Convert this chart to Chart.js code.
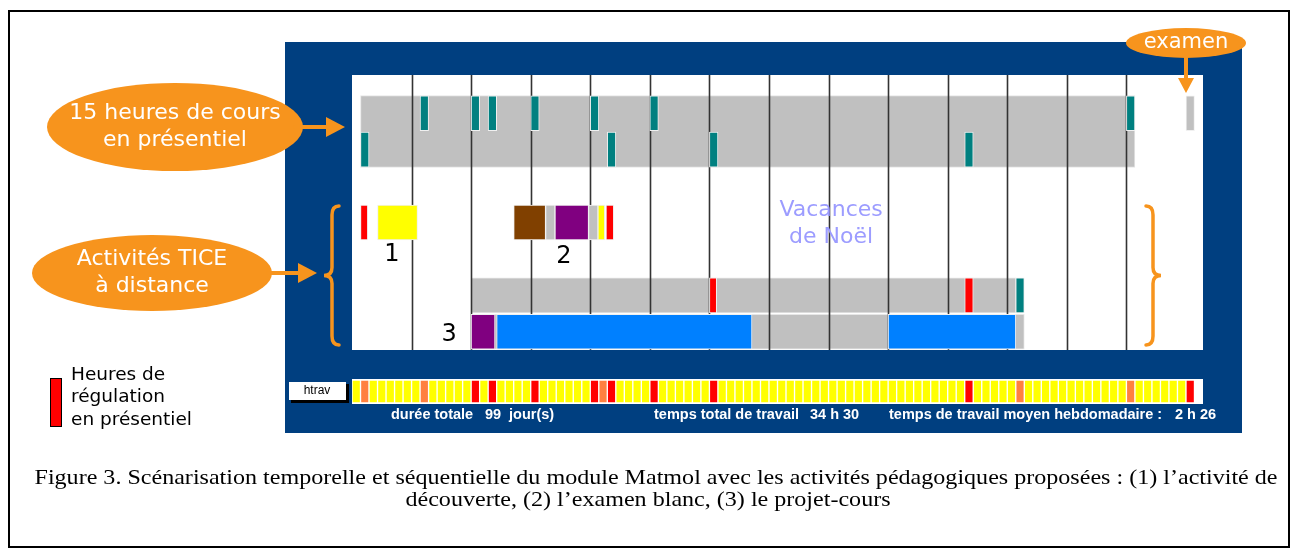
<!DOCTYPE html>
<html>
<head>
<meta charset="utf-8">
<script src="https://cdn.jsdelivr.net/npm/chart.js@4.4.1/dist/chart.umd.min.js"></script>
<style>
  body { margin: 0; background: #fff; }
  #wrap { position: relative; width: 1294px; height: 558px; }
  #main { position: absolute; left: 0; top: 0; }
  #strip { position: absolute; left: 352px; top: 379px; background: #fff; }
</style>
</head>
<body>
<div id="wrap">
  <canvas id="main" width="1294" height="558"></canvas>
  <canvas id="strip" width="851" height="25"></canvas>
</div>
<script>
/* ---------- DONNEES (jours depuis le début du module) ---------- */
const rowLabels = ["cours 1", "cours 2", "activités TICE", "projet 1", "projet 2"];
const rowLanes = [1, 2, 4, 6, 7];
const coursLane = 1.5;              // bande grise commune aux 2 lignes de cours

const coursSpan = [1, 92];
const projetGris = [[14, 78], [14, 79]];      // lignes projet 1 et 2
const seances1 = [8, 14, 16, 21, 28, 35, 91];  // cours en présentiel
const seances2 = [1, 30, 42, 72];
const seancesProjet = [78];
const regulAct = [[1, 1.85], [29.85, 30.75]];  // heures de régulation
const regulProjet = [[42, 42.85], [72, 73]];
const examen = [98, 99];
const attente = [[22.75, 23.85], [27.8, 28.9]];
const jaune = [[3, 7.7], [28.9, 29.7]];
const marron = [[19, 22.75]];
const violetAct = [[23.85, 27.8]];
const violetProjet = [[14, 16.8]];
const bleu = [[17, 47], [63, 78]];

// bande htrav : un caractère par jour (Y jaune, O orange, R rouge)
const journal = [
  "YOYYYYY", "YOYYYYY", "RYRYYYY", "RYYYYYY", "RORYYYY", "RYYYYYY", "RYYYYYY",
  "YYYYYYY", "YYYYYYY", "YYYYYYY", "YYRYYYY", "YOYYYYY", "YYYYYYY", "OYYYYYY", "R"
];
const semaineTicks = 7;
const dureeTotale = "99";
const tempsTotal = "34 h 30";
const tempsMoyen = "2 h 26";

/* ---------- HELPERS ---------- */
function spans(list, lane) {
  return list.map(s => ({ x: [s[0], s[1]], y: lane }));
}
function days(list, lane) {
  return list.map(d => ({ x: [d, d + 1], y: lane }));
}

const ORANGE = "#f7941d";

function barSet(label, data, color, extra) {
  return Object.assign({
    label: label,
    data: data,
    backgroundColor: color,
    borderColor: "#f0f0f0",
    borderWidth: 1,
    borderSkipped: false,
    barThickness: 35,
    grouped: false,
    order: 1
  }, extra || {});
}

function fleche(ctx, x1, y1, x2, y2, head, half) {
  let a = Math.atan2(y2 - y1, x2 - x1);
  let bx = x2 - Math.cos(a) * head, by = y2 - Math.sin(a) * head;
  ctx.strokeStyle = ORANGE;
  ctx.fillStyle = ORANGE;
  ctx.lineWidth = 4;
  ctx.beginPath();
  ctx.moveTo(x1, y1);
  ctx.lineTo(bx, by);
  ctx.stroke();
  ctx.beginPath();
  ctx.moveTo(x2, y2);
  ctx.lineTo(bx - Math.sin(a) * half, by + Math.cos(a) * half);
  ctx.lineTo(bx + Math.sin(a) * half, by - Math.cos(a) * half);
  ctx.closePath();
  ctx.fill();
}

function bulle(ctx, cx, cy, rx, ry, lines, font, dy) {
  ctx.fillStyle = ORANGE;
  ctx.beginPath();
  ctx.ellipse(cx, cy, rx, ry, 0, 0, Math.PI * 2);
  ctx.fill();
  ctx.fillStyle = "#fff";
  ctx.font = font;
  ctx.textAlign = "center";
  ctx.textBaseline = "middle";
  lines.forEach((t, i) => {
    ctx.fillText(t, cx, cy + (i - (lines.length - 1) / 2) * dy);
  });
}

function accolade(ctx, x, top, bottom, dir) {
  // dir = -1 : "{" , dir = 1 : "}"
  let mid = (top + bottom) / 2;
  ctx.strokeStyle = ORANGE;
  ctx.lineWidth = 3.5;
  ctx.lineCap = "round";
  ctx.beginPath();
  ctx.moveTo(x - dir * 7, top);
  ctx.quadraticCurveTo(x, top, x, top + 9);
  ctx.lineTo(x, mid - 8);
  ctx.quadraticCurveTo(x, mid, x + dir * 8, mid);
  ctx.quadraticCurveTo(x, mid, x, mid + 8);
  ctx.lineTo(x, bottom - 9);
  ctx.quadraticCurveTo(x, bottom, x - dir * 7, bottom);
  ctx.stroke();
}

// texte étiré horizontalement pour tenir sur une largeur donnée
function texteLarge(ctx, txt, cx, cy, width) {
  let w = ctx.measureText(txt).width;
  ctx.save();
  ctx.translate(cx, cy);
  ctx.scale(width / w, 1);
  ctx.fillText(txt, 0, 0);
  ctx.restore();
}

/* ---------- PLUGINS ---------- */
const fond = {
  id: "fond",
  beforeDraw(chart) {
    const { ctx, chartArea } = chart;
    ctx.save();
    ctx.fillStyle = "#fff";
    ctx.fillRect(0, 0, chart.width, chart.height);
    ctx.strokeStyle = "#000";
    ctx.lineWidth = 2;
    ctx.strokeRect(9, 11, 1280, 536);
    ctx.fillStyle = "#003f80";
    ctx.fillRect(285, 42, 957, 391);
    ctx.fillStyle = "#fff";
    ctx.fillRect(chartArea.left, chartArea.top, chartArea.right - chartArea.left, chartArea.bottom - chartArea.top);
    ctx.restore();
  }
};

// lignes des semaines : par-dessus les bandes grises, sous les activités
const semaines = {
  id: "semaines",
  afterDatasetDraw(chart, args) {
    if (chart.data.datasets[args.index].label !== "gris") return;
    const { ctx, chartArea, scales: { x } } = chart;
    ctx.save();
    ctx.strokeStyle = "#333";
    ctx.lineWidth = 1.6;
    x.ticks.forEach(t => {
      if (t.value <= 0 || t.value >= x.max) return;
      let px = Math.round(x.getPixelForValue(t.value)) + 0.5;
      ctx.beginPath();
      ctx.moveTo(px, chartArea.top);
      ctx.lineTo(px, chartArea.bottom);
      ctx.stroke();
    });
    ctx.restore();
  }
};

const annotations = {
  id: "annotations",
  afterDraw(chart) {
    const { ctx, scales: { x, y } } = chart;
    ctx.save();

    // textes dans la zone blanche
    ctx.textAlign = "center";
    ctx.textBaseline = "middle";
    ctx.fillStyle = "#9c9cff";
    ctx.font = "22px 'DejaVu Sans'";
    ctx.fillText("Vacances", x.getPixelForValue(56.3), 210);
    ctx.fillText("de Noël", x.getPixelForValue(56.3), 237);
    ctx.fillStyle = "#000";
    ctx.font = "24px 'DejaVu Sans'";
    ctx.fillText("1", x.getPixelForValue(4.7), 255);
    ctx.fillText("2", x.getPixelForValue(24.9), 257);
    ctx.fillText("3", x.getPixelForValue(11.4), 335);

    // accolades
    accolade(ctx, 332, 206, 345, -1);
    accolade(ctx, 1153, 206, 345, 1);

    // bulles orange
    bulle(ctx, 175, 127, 128, 44, ["15 heures de cours", "en présentiel"], "22px 'DejaVu Sans'", 27);
    fleche(ctx, 295, 127, 345, 127, 19, 10);
    bulle(ctx, 152, 273, 120, 38, ["Activités TICE", "à distance"], "22px 'DejaVu Sans'", 27);
    fleche(ctx, 268, 273, 317, 273, 19, 10);
    bulle(ctx, 1186, 43, 60, 15, ["examen"], "21px 'DejaVu Sans'", 0);
    fleche(ctx, 1186, 57, 1186, 93, 15, 8);

    // légende régulation
    ctx.fillStyle = "#ff0000";
    ctx.fillRect(50, 378, 12, 49);
    ctx.strokeStyle = "#000";
    ctx.lineWidth = 1;
    ctx.strokeRect(50.5, 378.5, 11, 48);
    ctx.fillStyle = "#000";
    ctx.font = "18.5px 'DejaVu Sans'";
    ctx.textAlign = "left";
    ctx.fillText("Heures de", 71, 375);
    ctx.fillText("régulation", 71, 397);
    ctx.fillText("en présentiel", 71, 420);

    // bouton htrav
    ctx.fillStyle = "#000";
    ctx.fillRect(291, 384, 58, 19);
    ctx.fillStyle = "#fff";
    ctx.fillRect(289, 382, 57, 18);
    ctx.fillStyle = "#000";
    ctx.font = "12px 'Liberation Sans'";
    ctx.textAlign = "center";
    ctx.fillText("htrav", 317, 391);

    // résumé sous la bande
    ctx.fillStyle = "#fff";
    ctx.font = "bold 14.5px 'Liberation Sans'";
    ctx.textAlign = "left";
    ctx.fillText("durée totale", 391, 415);
    ctx.fillText(dureeTotale, 485, 415);
    ctx.fillText("jour(s)", 509, 415);
    ctx.fillText("temps total de travail", 654, 415);
    ctx.fillText(tempsTotal, 810, 415);
    ctx.fillText("temps de travail moyen hebdomadaire :", 889, 415);
    ctx.fillText(tempsMoyen, 1175, 415);

    // légende de la figure
    ctx.fillStyle = "#000";
    ctx.font = "21px 'Liberation Serif'";
    ctx.textAlign = "center";
    texteLarge(ctx, "Figure 3. Scénarisation temporelle et séquentielle du module Matmol avec les activités pédagogiques proposées : (1) l\u2019activité de", 656, 478, 1243);
    let w2 = ctx.measureText("découverte, (2) l\u2019examen blanc, (3) le projet-cours").width;
    let w1 = ctx.measureText("Figure 3. Scénarisation temporelle et séquentielle du module Matmol avec les activités pédagogiques proposées : (1) l\u2019activité de").width;
    texteLarge(ctx, "découverte, (2) l\u2019examen blanc, (3) le projet-cours", 648, 500, w2 * 1243 / w1);

    ctx.restore();
  }
};

/* ---------- GRAPHIQUE PRINCIPAL ---------- */
new Chart(document.getElementById("main"), {
  type: "bar",
  data: {
    datasets: [
      barSet("gris cours", [{ x: coursSpan, y: coursLane }], "#c0c0c0", { barThickness: 72, order: 3, borderColor: "#e6e6e6" }),
      barSet("gris", spans([projetGris[0]], rowLanes[3]).concat(spans([projetGris[1]], rowLanes[4])), "#c0c0c0", { order: 2, borderColor: "#e6e6e6" }),
      barSet("séances", days(seances1, rowLanes[0]).concat(days(seances2, rowLanes[1]), days(seancesProjet, rowLanes[3])), "#008080"),
      barSet("examen", [{ x: examen, y: rowLanes[0] }], "#c0c0c0"),
      barSet("attente", spans(attente, rowLanes[2]), "#c0c0c0"),
      barSet("régulation", spans(regulAct, rowLanes[2]).concat(spans(regulProjet, rowLanes[3])), "#ff0000"),
      barSet("découverte", spans(jaune, rowLanes[2]), "#ffff00"),
      barSet("examen blanc", spans(marron, rowLanes[2]), "#804000"),
      barSet("violet", spans(violetAct, rowLanes[2]).concat(spans(violetProjet, rowLanes[4])), "#800080"),
      barSet("projet-cours", spans(bleu, rowLanes[4]), "#0080ff")
    ]
  },
  options: {
    indexAxis: "y",
    responsive: false,
    animation: false,
    layout: { padding: { left: 352, right: 91, top: 75, bottom: 208 } },
    plugins: { legend: { display: false }, tooltip: { enabled: false } },
    scales: {
      x: { type: "linear", min: 0, max: 100, offset: false, display: false, ticks: { stepSize: semaineTicks } },
      y: { type: "linear", min: -0.05, max: 7.5, offset: false, reverse: true, display: false }
    }
  },
  plugins: [fond, semaines, annotations]
});

/* ---------- BANDE HTRAV ---------- */
const stripColors = { Y: "#ffff00", O: "#ff8040", R: "#ff0000" };
const cells = journal.join("").split("");

new Chart(document.getElementById("strip"), {
  type: "bar",
  data: {
    datasets: [{
      data: cells.map((c, i) => ({ x: [i, i + 1], y: 0 })),
      backgroundColor: cells.map(c => stripColors[c]),
      borderColor: "#fff",
      borderWidth: 1,
      borderSkipped: false,
      barThickness: 23
    }]
  },
  options: {
    indexAxis: "y",
    responsive: false,
    animation: false,
    plugins: { legend: { display: false }, tooltip: { enabled: false } },
    scales: {
      x: { type: "linear", min: 0, max: 100, offset: false, display: false },
      y: { type: "linear", min: -0.5, max: 0.5, offset: false, display: false }
    }
  }
});
</script>
</body>
</html>
